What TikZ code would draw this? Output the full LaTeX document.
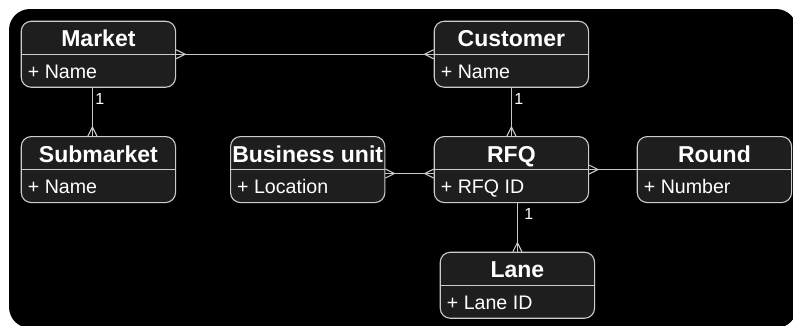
\documentclass[tikz,border=0pt]{standalone}
\usepackage{fontspec}
\setmainfont{Liberation Sans}
\usetikzlibrary{calc}

\definecolor{boxfill}{HTML}{1E1E1E}
\definecolor{boxline}{HTML}{CCCCCC}
\definecolor{linkcol}{HTML}{C8C8C8}

\tikzset{
  ebox/.style={draw=boxline, fill=boxfill, rounded corners=10pt,
    minimum width=154.3pt, minimum height=66pt, inner sep=0pt, line width=1.1pt},
  divider/.style={draw=boxline, line width=1.1pt},
  etitle/.style={text=white, inner sep=0pt, font=\fontsize{23}{25}\selectfont\bfseries},
  eattr/.style={text=white, inner sep=0pt, font=\fontsize{19.6}{21}\selectfont},
  link/.style={draw=linkcol, line width=1.1pt},
  mult/.style={text=white, inner sep=0pt, font=\fontsize{16}{18}\selectfont},
}

% one entity: name, left, top, title, attribute
\newcommand\entity[5]{%
  \node[ebox, anchor=north west] (#1) at (#2,#3) {};
  \draw[divider] (#1.west) -- (#1.east);
  \node[etitle, anchor=base] at ([yshift=-26pt]#1.north) {#4};
  \node[eattr, anchor=base west] at ([xshift=7pt,yshift=-57.6pt]#1.north west) {#5};
}

% crow's foot at a box edge, pointing away from the box at the given angle
\newcommand\crowfoot[2]{%
  \begin{scope}[shift={(#1)}, rotate=#2, x=1pt, y=1pt]
    \draw[link, line join=miter] (0,4.5) -- (9,0) -- (0,-4.5);
  \end{scope}
}

\begin{document}
\begin{tikzpicture}[x=1pt, y=-1pt]
  \useasboundingbox (0,0) rectangle (793,325);
  \fill[white] (0,0) rectangle (793,325);
  \fill[black, rounded corners=21pt] (9,9) rectangle (797,328);

  \entity{market}{20.7}{20.7}{Market}{+ Name}
  \entity{customer}{433.7}{20.7}{Customer}{+ Name}
  \entity{submarket}{20.7}{136}{Submarket}{+ Name}
  \entity{bunit}{230}{136}{Business unit}{+ Location}
  \entity{rfq}{433.7}{136}{RFQ}{+ RFQ ID}
  \entity{round}{636.7}{136}{Round}{+ Number}
  \entity{lane}{439.7}{251.7}{Lane}{+ Lane ID}

  % Market -- Customer (many to many)
  \draw[link] (market.east) -- (customer.west);
  \crowfoot{market.east}{0}
  \crowfoot{customer.west}{180}

  % Market -- Submarket (one to many)
  \coordinate (msTop) at ([xshift=-6pt]market.south);
  \draw[link] (msTop) -- node[mult, pos=0, anchor=north west, xshift=2.5pt, yshift=-5pt] {1} (msTop |- submarket.north);
  \crowfoot{msTop |- submarket.north}{90}

  % Customer -- RFQ (one to many)
  \draw[link] (customer.south) -- node[mult, pos=0, anchor=north west, xshift=2.5pt, yshift=-5pt] {1} (customer.south |- rfq.north);
  \crowfoot{customer.south |- rfq.north}{90}

  % Business unit -- RFQ (many to many)
  \coordinate (buR) at ([yshift=-4pt]bunit.east);
  \draw[link] (buR) -- (buR -| rfq.west);
  \crowfoot{buR}{0}
  \crowfoot{buR -| rfq.west}{180}

  % RFQ -- Round (many to one)
  \draw[link] (rfq.east) -- (round.west);
  \crowfoot{rfq.east}{0}

  % RFQ -- Lane (one to many)
  \coordinate (rlTop) at (lane.north |- rfq.south);
  \draw[link] (rlTop) -- node[mult, pos=0, anchor=north west, xshift=6.5pt, yshift=-5pt] {1} (lane.north);
  \crowfoot{lane.north}{90}
\end{tikzpicture}
\end{document}
